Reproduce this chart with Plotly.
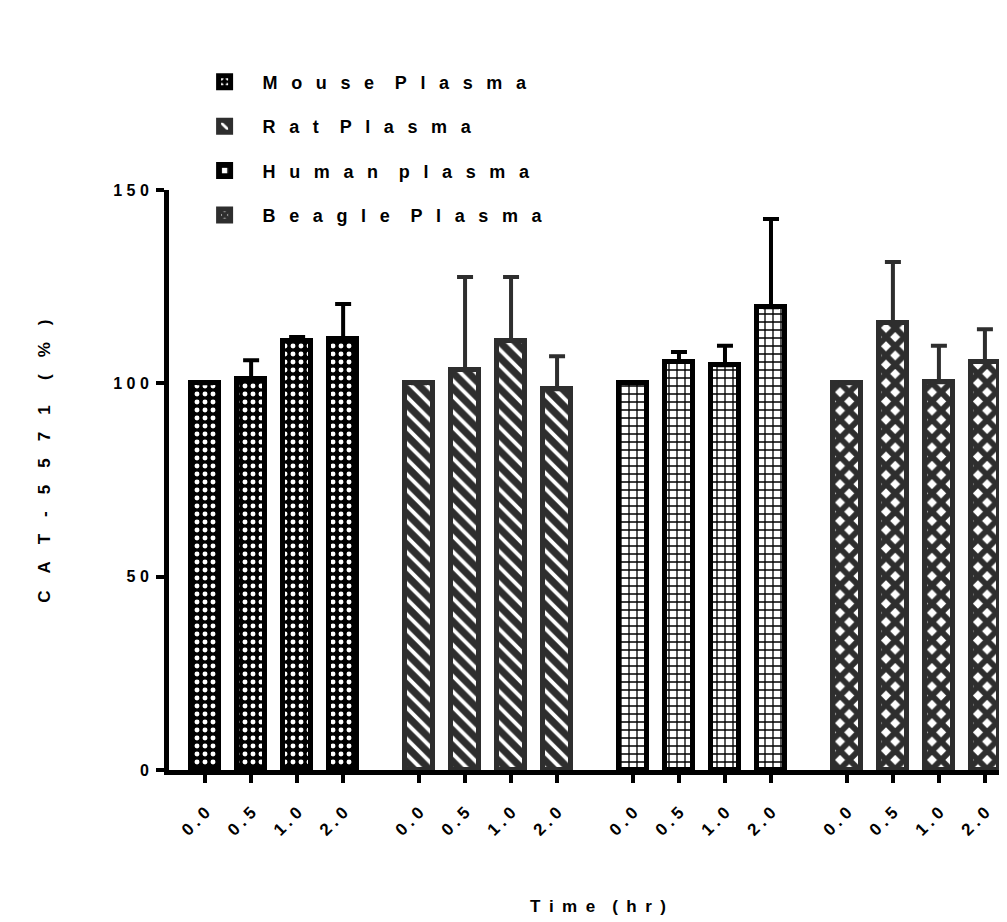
import plotly.graph_objects as go

# ---------------- data ----------------
groups = ["Mouse Plasma", "Rat Plasma", "Human plasma", "Beagle Plasma"]
times = ["0.0", "0.5", "1.0", "2.0"]
mouse = [100, 101, 111, 111.5]
mouse_err = [0, 5, 1, 9]
rat = [100, 103.5, 111, 98.5]
rat_err = [0, 24, 16.5, 8.5]
human = [100, 105.5, 104.7, 119.7]
human_err = [0, 2.6, 5, 22.8]
beagle = [100, 115.6, 100.3, 105.5]
beagle_err = [0, 15.8, 9.4, 8.5]
y_ticks = [0, 50, 100, 150]
x_title = "Time (hr)"
y_title = "CAT-5571 (%)"

values = [mouse, rat, human, beagle]
errors = [mouse_err, rat_err, human_err, beagle_err]

# ---------------- style ----------------
FONT = "Liberation Sans, Arial, Helvetica, sans-serif"
line_colors = ["#000000", "#2e2e2e", "#000000", "#2e2e2e"]
patterns = [
    dict(shape=".", fgcolor="#ffffff", bgcolor="#000000", size=8, solidity=0.3, fillmode="replace"),
    dict(shape="\\", fgcolor="#ffffff", bgcolor="#2e2e2e", size=11, solidity=0.35, fillmode="replace"),
    dict(shape="+", fgcolor="#000000", bgcolor="#ffffff", size=8, solidity=0.3, fillmode="replace"),
    dict(shape="x", fgcolor="#2e2e2e", bgcolor="#ffffff", size=13, solidity=0.7, fillmode="replace"),
]


def spaced(s, gap=" ", word_extra="\u2009\u2009"):
    """Letter-spaced display text: letters joined by `gap`, words by gap + extra."""
    words = s.split(" ")
    return (gap + word_extra).join(gap.join(w) for w in words)


group_gap = 0.65
n = len(times)

fig = go.Figure()
all_pos = []
all_lbl = []
for g, name in enumerate(groups):
    pos = [g * (n + group_gap) + i for i in range(n)]
    all_pos += pos
    all_lbl += [spaced(t, gap="\u2005") for t in times]
    fig.add_trace(go.Bar(
        x=pos,
        y=values[g],
        width=0.6,
        name=spaced(name, gap="\u00a0\u00a0\u2009", word_extra="\u2009\u2009"),
        legendgroup=name,
        marker=dict(
            color=patterns[g]["bgcolor"],
            line=dict(color=line_colors[g], width=5),
            pattern=patterns[g],
        ),
        error_y=dict(
            type="data",
            symmetric=False,
            array=errors[g],
            arrayminus=[0] * n,
            color=line_colors[g],
            thickness=4,
            width=8,
        ),
    ))

fig.update_layout(
    width=1007,
    height=922,
    autosize=False,
    margin=dict(l=161, r=8, t=182, b=160, autoexpand=False),
    plot_bgcolor="white",
    paper_bgcolor="white",
    bargap=0,
    font=dict(family=FONT, size=16, color="black", weight="bold"),
    showlegend=True,
    legend=dict(
        x=0.021, y=1.218, xanchor="left", yanchor="top",
        font=dict(family=FONT, size=18, color="black", weight="bold"),
        tracegroupgap=18,
        itemwidth=66,
        bgcolor="rgba(0,0,0,0)",
    ),
    annotations=[
        dict(text=spaced(y_title, gap="\u2003", word_extra="\u2002"),
             xref="paper", yref="paper", x=-0.148, y=0.533,
             xanchor="center", yanchor="middle", textangle=-90, showarrow=False,
             font=dict(family=FONT, size=17, weight="bold", color="black")),
        dict(text=spaced(x_title, gap="\u2002", word_extra="\u2002"),
             xref="paper", yref="paper", x=0.512, y=-0.235,
             xanchor="center", yanchor="middle", showarrow=False,
             font=dict(family=FONT, size=17, weight="bold", color="black")),
    ],
)

fig.update_yaxes(
    range=[0, 150],
    tickvals=y_ticks,
    ticktext=[spaced(str(v), gap=" ") for v in y_ticks],
    ticks="outside", ticklen=8, tickwidth=4, tickcolor="black",
    ticklabelstandoff=4,
    showline=True, linewidth=5, linecolor="black",
    showgrid=False, zeroline=False,
    tickfont=dict(family=FONT, size=16, weight="bold"),
    automargin=False,
)

fig.update_xaxes(
    range=[-0.785, 17.43],
    tickvals=all_pos,
    ticktext=all_lbl,
    tickangle=-45,
    ticks="outside", ticklen=8, tickwidth=4, tickcolor="black",
    ticklabelstandoff=13,
    showline=True, linewidth=5, linecolor="black",
    showgrid=False, zeroline=False,
    tickfont=dict(family=FONT, size=17, weight="bold"),
    automargin=False,
)

fig.write_html("out.html")
